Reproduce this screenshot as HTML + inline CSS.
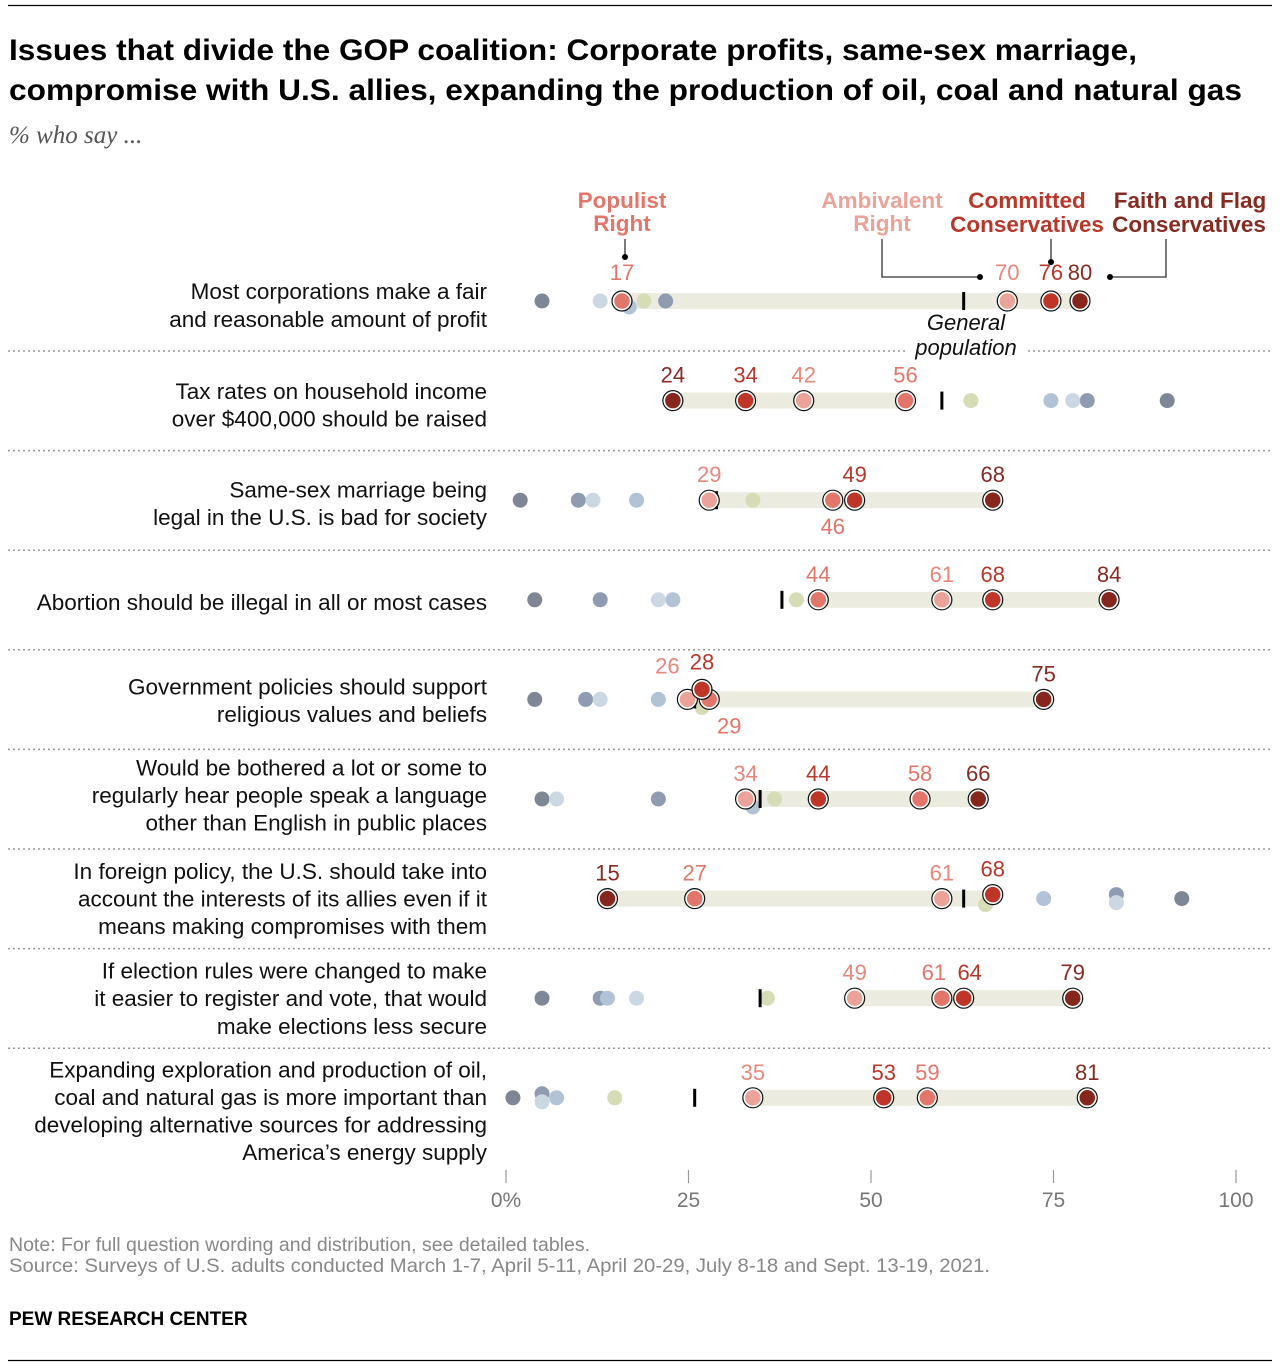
<!DOCTYPE html>
<html><head><meta charset="utf-8"><style>
html,body{margin:0;padding:0;background:#fff;}
svg{display:block;font-family:"Liberation Sans",Arial,sans-serif;}
</style></head><body>
<svg id="chart" width="1280" height="1368" viewBox="0 0 1280 1368" xmlns="http://www.w3.org/2000/svg">
<line x1="8" y1="5.5" x2="1272" y2="5.5" stroke="#000" stroke-width="1.2"/>
<text x="9" y="60" font-size="30" font-weight="bold" textLength="1128" lengthAdjust="spacingAndGlyphs">Issues that divide the GOP coalition: Corporate profits, same-sex marriage,</text>
<text x="9" y="100" font-size="30" font-weight="bold" textLength="1233" lengthAdjust="spacingAndGlyphs">compromise with U.S. allies, expanding the production of oil, coal and natural gas</text>
<text x="9" y="143" font-size="25" font-style="italic" fill="#555" font-family="Liberation Serif, serif">% who say ...</text>

<g font-weight="bold" font-size="22.5" text-anchor="middle">
<text x="622" y="208" fill="#e3766a">Populist</text>
<text x="622" y="231" fill="#e3766a">Right</text>
<text x="882" y="208" fill="#eba298">Ambivalent</text>
<text x="882" y="231" fill="#eba298">Right</text>
<text x="1027" y="208" fill="#b8372a">Committed</text>
<text x="1027" y="232" fill="#b8372a">Conservatives</text>
<text x="1190" y="208" fill="#862b22">Faith and Flag</text>
<text x="1189" y="232" fill="#862b22">Conservatives</text>
</g>
<g stroke="#333" stroke-width="1.3" fill="none">
<path d="M625 239 V257"/><path d="M882 239 V277 H980"/><path d="M1051 239 V262"/><path d="M1166 239 V277 H1110"/>
</g>
<g fill="#000"><circle cx="625" cy="257" r="3"/><circle cx="980" cy="277" r="3"/><circle cx="1051" cy="262" r="3"/><circle cx="1110" cy="277" r="3"/></g>

<g id="rows"></g>
<g id="axis"></g>

<text x="9" y="1251" font-size="19.5" fill="#888">Note: For full question wording and distribution, see detailed tables.</text>
<text x="9" y="1272" font-size="19.5" fill="#888" textLength="981" lengthAdjust="spacingAndGlyphs">Source: Surveys of U.S. adults conducted March 1-7, April 5-11, April 20-29, July 8-18 and Sept. 13-19, 2021.</text>
<text x="9" y="1325" font-size="19" font-weight="bold">PEW RESEARCH CENTER</text>
<line x1="8" y1="1360.5" x2="1272" y2="1360.5" stroke="#000" stroke-width="1.2"/>
</svg>
<script>
// ===== data =====
const questions = [
 ["Most corporations make a fair","and reasonable amount of profit"],
 ["Tax rates on household income","over $400,000 should be raised"],
 ["Same-sex marriage being","legal in the U.S. is bad for society"],
 ["Abortion should be illegal in all or most cases"],
 ["Government policies should support","religious values and beliefs"],
 ["Would be bothered a lot or some to","regularly hear people speak a language","other than English in public places"],
 ["In foreign policy, the U.S. should take into","account the interests of its allies even if it","means making compromises with them"],
 ["If election rules were changed to make","it easier to register and vote, that would","make elections less secure"],
 ["Expanding exploration and production of oil,","coal and natural gas is more important than","developing alternative sources for addressing","America’s energy supply"]
];
const populistRight   = [17,56,46,44,29,58,27,61,59];
const ambivalentRight = [70,42,29,61,26,34,61,49,35];
const committedCons   = [76,34,49,68,28,44,68,64,53];
const faithFlagCons   = [80,24,68,84,75,66,15,79,81];
const generalPop      = [64,61,30,39,27,36,64,36,27];
const otherDark       = [6,92,3,5,5,6,94,6,2];
const otherMid        = [23,81,11,14,12,22,85,14,6];
const otherLightBlue  = [18,76,19,24,22,35,75,15,8];
const otherLightest   = [14,79,13,22,14,8,85,19,6];
const otherGreen      = [20,65,35,41,28,38,67,37,16];
const tickValues = [0,25,50,75,100];
const tickLabels = ["0%","25","50","75","100"];

// ===== scales =====
const xDot = v => 498.4 + v*7.27;
const xTick = v => 506 + v*7.3;
const rowY = i => 301 + i*99.6;
const NS="http://www.w3.org/2000/svg";
function mk(tag, attrs, parent){const e=document.createElementNS(NS,tag);for(const k in attrs)e.setAttribute(k,attrs[k]);parent.appendChild(e);return e;}
const rows=document.getElementById('rows');
const groups=[
 {arr:populistRight,fill:"#e3766a",txt:"#e3766a",name:"populist-right"},
 {arr:ambivalentRight,fill:"#eba298",txt:"#e8877c",name:"ambivalent-right"},
 {arr:committedCons,fill:"#bf3628",txt:"#b8372a",name:"committed-conservatives"},
 {arr:faithFlagCons,fill:"#86261d",txt:"#862b22",name:"faith-flag-conservatives"}
];
const others=[
 {arr:otherDark,fill:"#7f8696",name:"other-dark"},
 {arr:otherMid,fill:"#8f9bb0",name:"other-mid"},
 {arr:otherLightBlue,fill:"#b2c3d6",name:"other-lightblue"},
 {arr:otherLightest,fill:"#cbd8e4",name:"other-lightest"},
 {arr:otherGreen,fill:"#d6dcb5",name:"other-green"}
];
const dotDy={"0-other-lightblue":6,"4-committed-conservatives":-10,"4-other-green":8,"5-other-lightblue":8,"6-committed-conservatives":-4,"6-other-green":6,"6-other-mid":-4,"6-other-lightest":4,"8-other-mid":-4,"8-other-lightest":4};
const labelBelow={"2-populist-right":1,"4-populist-right":1};
const labelDx={"4-ambivalent-right":-20,"4-populist-right":20,"7-populist-right":-8,"7-committed-conservatives":6};
const labelDy={"4-ambivalent-right":-8,"4-committed-conservatives":-2};
const qOffset=[4,4,3,2,1,-4,0,0,13];

for(let i=0;i<questions.length;i++){
 const y=rowY(i);
 const g=mk('g',{},rows);
 
 
 const q=questions[i];const lh=27.6;const y0=y-((q.length-1)*lh)/2+8+qOffset[i];
 q.forEach((l,k)=>{const t=mk('text',{x:487,y:y0+k*lh,'font-size':22.5,'text-anchor':'end',fill:'#111'},g);t.textContent=l;
  
  });
 if(i<questions.length-1){const ln=mk('line',{x1:8,x2:1272,y1:y+50,y2:y+50,stroke:'#999','stroke-width':1.5,'stroke-dasharray':'2,3'},g);
  
  }
 const vals=groups.map(gr=>gr.arr[i]);
 const lo=Math.min(...vals),hi=Math.max(...vals);
 const bar=mk('rect',{x:xDot(lo),y:y-8,width:xDot(hi)-xDot(lo),height:16,fill:'#ecebdf'},g);
 
 
 others.forEach(o=>{const dy=dotDy[i+'-'+o.name]||0;
  const c=mk('circle',{cx:xDot(o.arr[i]),cy:y+dy,r:7.5,fill:o.fill},g);
  
  });
 const tk=mk('rect',{x:xDot(generalPop[i])-1.5,y:y-9,width:3,height:18,fill:'#000'},g);
 
 
 groups.forEach(gr=>{const key=i+'-'+gr.name;const dy=dotDy[key]||0;const cx=xDot(gr.arr[i]);
  const c=mk('circle',{cx:cx,cy:y+dy,r:8.5,fill:gr.fill,stroke:'#fff','stroke-width':1.5},g);
  
  
  const c2=mk('circle',{cx:cx,cy:y+dy,r:10,fill:'none',stroke:'#111','stroke-width':1.2},g);
  
  
  const below=labelBelow[key];
  let ly=below? y+34 : y-18+dy;
  if(i===0) ly=y-21;
  ly+=labelDy[key]||0;
  const t=mk('text',{x:cx+(labelDx[key]||0),y:ly,'font-size':22,'text-anchor':'middle',fill:gr.txt},g);
  t.textContent=gr.arr[i];
  
  
 });
 if(i===0){
  const gp1=mk('text',{x:966,y:330,'font-size':22,'font-style':'italic','text-anchor':'middle',fill:'#111'},g);gp1.textContent='General';
  
  
  const bg=mk('rect',{x:906,y:337,width:120,height:24,fill:'#fff'},g);
  
  
  const gp2=mk('text',{x:966,y:355,'font-size':22,'font-style':'italic','text-anchor':'middle',fill:'#111'},g);gp2.textContent='population';
  
  
 }
}
const ax=document.getElementById('axis');
tickValues.forEach((v,k)=>{
 const l=mk('line',{x1:xTick(v),x2:xTick(v),y1:1170,y2:1183,stroke:'#999','stroke-width':1.2},ax);
 
 
 const t=mk('text',{x:xTick(v),y:1207,'font-size':21,'text-anchor':'middle',fill:'#777'},ax);
 t.textContent=tickLabels[k];
 
 
});
</script>
</body></html>
